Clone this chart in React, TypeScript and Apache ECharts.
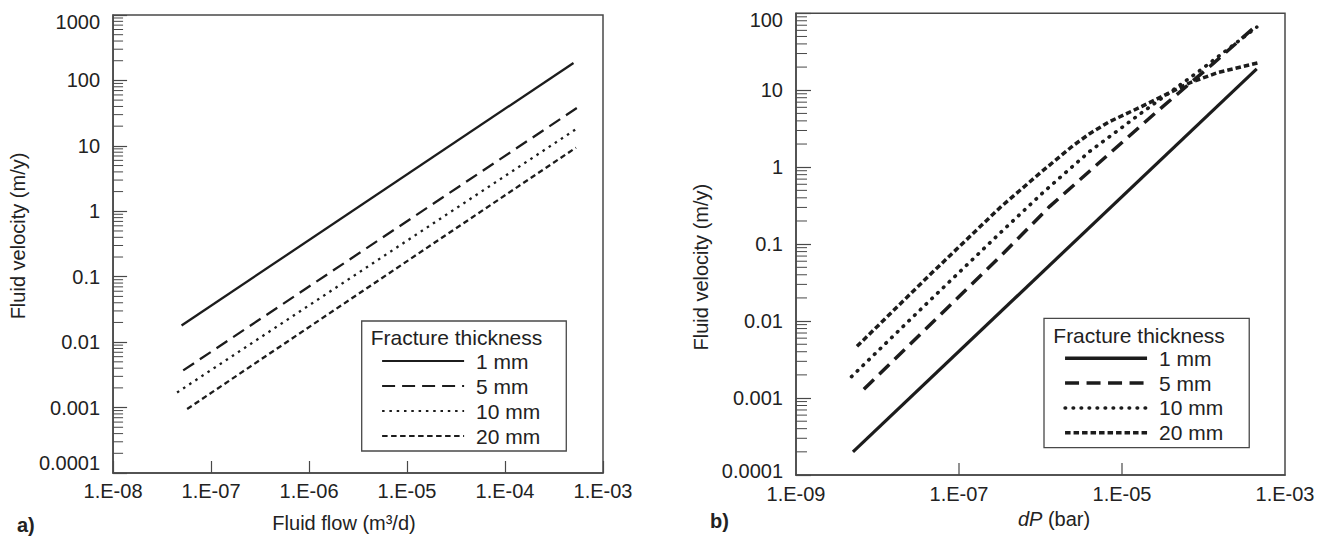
import React, { useEffect, useRef } from 'react';
import * as echarts from 'echarts';

// ---------- Data: panel a) fluid flow (m3/d) vs fluid velocity (m/y) ----------
const seriesNames = ['1 mm', '5 mm', '10 mm', '20 mm'];

const a1mm = [[5.0e-8, 0.018], [5.0e-4, 185]];
const a5mm = [[5.2e-8, 0.0037], [6.0e-4, 42]];
const a10mm = [[4.5e-8, 0.0017], [5.3e-4, 18]];
const a20mm = [[5.7e-8, 0.00095], [5.3e-4, 9.4]];

// ---------- Data: panel b) dP (bar) vs fluid velocity (m/y) ----------
const b1mm = [[5.0e-9, 0.0002], [4.5e-4, 19]];
const b5mm = [[6.8e-9, 0.0013], [3.2e-7, 0.069], [1.3e-6, 0.31], [2.8e-5, 5.5], [1.3e-4, 22], [4.5e-4, 70]];
const b10mm = [[4.8e-9, 0.0019], [3.8e-8, 0.016], [3.2e-7, 0.14], [1.1e-6, 0.48], [4.0e-6, 1.6], [1.7e-5, 5.0], [9.0e-5, 18], [4.5e-4, 66]];
const b20mm = [[5.6e-9, 0.0047], [4.4e-8, 0.04], [3.2e-7, 0.3], [1.0e-6, 0.85], [2.5e-6, 1.9], [4.05e-6, 2.75], [7.0e-6, 3.9], [1.66e-5, 6.0], [6.8e-5, 12.5], [1.5e-4, 17], [4.9e-4, 23]];

// ---------- Axis ranges / ticks ----------
const aXRange = [1e-8, 1e-3];
const aYRange = [1e-4, 1000];
const bXRange = [1e-9, 1e-3];
const bYRange = [1e-4, 100];
const bXMajorTicks = [1e-7, 1e-5];
const minorMultipliers = [2, 3, 4, 5, 6, 7, 8, 9];

const legendTitle = 'Fracture thickness';
const aYName = 'Fluid velocity (m/y)';
const aXName = 'Fluid flow (m\u00B3/d)';
const bYName = 'Fluid velocity (m/y)';

const FONT = "'Liberation Sans', Arial, Helvetica, sans-serif";
const INK = '#1c1c1c';
const AXIS = '#484848';
const TXT = '#222';

function expOf(v: number) {
  return Math.round(Math.log10(v));
}
function sciLabel(v: number) {
  const e = expOf(v);
  return '1.E' + (e < 0 ? '-' : '+') + String(Math.abs(e)).padStart(2, '0');
}
function decLabel(v: number) {
  const e = expOf(v);
  return e >= 0 ? String(Math.pow(10, e)) : '0.' + '0'.repeat(-e - 1) + '1';
}
function minorValues(range: number[]) {
  const out: number[] = [];
  for (let e = expOf(range[0]); e < expOf(range[1]); e++) {
    for (const m of minorMultipliers) out.push(m * Math.pow(10, e));
  }
  return out;
}

function yMinorTickSeries(xAt: number, values: number[], len: number) {
  return {
    type: 'custom',
    silent: true,
    z: 4,
    clip: false,
    data: values.map((v) => [xAt, v]),
    encode: { x: 0, y: 1 },
    renderItem: (_p: any, api: any) => {
      const p = api.coord([api.value(0), api.value(1)]);
      return {
        type: 'line',
        shape: { x1: p[0], y1: p[1], x2: p[0] + len, y2: p[1] },
        style: { stroke: AXIS, lineWidth: 1 },
      };
    },
  };
}

function xMajorTickSeries(yAt: number, values: number[], len: number) {
  return {
    type: 'custom',
    silent: true,
    z: 4,
    clip: false,
    data: values.map((v) => [v, yAt]),
    encode: { x: 0, y: 1 },
    renderItem: (_p: any, api: any) => {
      const p = api.coord([api.value(0), api.value(1)]);
      return {
        type: 'line',
        shape: { x1: p[0], y1: p[1], x2: p[0], y2: p[1] - len },
        style: { stroke: AXIS, lineWidth: 1.2 },
      };
    },
  };
}

function lineSeries(name: string, data: number[][], width: number, dash: any, cap: string) {
  return {
    type: 'line',
    name,
    data,
    symbol: 'none',
    showSymbol: false,
    smooth: false,
    z: 3,
    lineStyle: { color: INK, width, type: dash, cap, join: 'round' },
    itemStyle: { color: INK },
  };
}

const labelStyle = { fontSize: 20, color: TXT, fontFamily: FONT };

function legendFor(left: number, top: number, gap: number, lw: number) {
  return {
    orient: 'vertical',
    left,
    top,
    data: seriesNames,
    itemWidth: 82,
    itemHeight: 21,
    itemGap: gap,
    padding: [29.5, 26, 4.5, 19.3],
    borderColor: AXIS,
    borderWidth: 1.3,
    backgroundColor: '#fff',
    selectedMode: false,
    itemStyle: { opacity: 0 },
    lineStyle: { width: lw },
    textStyle: { fontSize: 21, fontFamily: FONT, color: TXT, lineHeight: 21, padding: [0, 0, 0, 7] },
    z: 10,
  };
}

function optionA() {
  return {
    animation: false,
    backgroundColor: '#fff',
    grid: { left: 113, top: 15, width: 490, height: 463, show: true, borderColor: AXIS, borderWidth: 1.5, backgroundColor: 'transparent' },
    xAxis: {
      type: 'log',
      logBase: 10,
      min: aXRange[0],
      max: aXRange[1],
      axisLine: { show: true, lineStyle: { color: AXIS, width: 1.5 } },
      axisTick: { show: true, inside: true, length: 12, lineStyle: { color: AXIS, width: 1.2 } },
      axisLabel: { ...labelStyle, formatter: sciLabel, margin: 8, showMinLabel: true, showMaxLabel: true },
      splitLine: { show: false },
      minorTick: { show: false },
      name: aXName,
      nameLocation: 'middle',
      nameGap: 40,
      nameTextStyle: { fontSize: 20, color: TXT, fontFamily: FONT, padding: [0, 28, 0, 0] },
    },
    yAxis: {
      type: 'log',
      logBase: 10,
      min: aYRange[0],
      max: aYRange[1],
      axisLine: { show: true, lineStyle: { color: AXIS, width: 1.5 } },
      axisTick: { show: true, inside: true, length: 14, lineStyle: { color: AXIS, width: 1.2 } },
      axisLabel: {
        ...labelStyle,
        margin: 13,
        showMinLabel: true,
        showMaxLabel: true,
        formatter: (v: number) => {
          const e = expOf(v);
          if (e === expOf(aYRange[1])) return '{hi|' + decLabel(v) + '}';
          if (e === expOf(aYRange[0])) return '{lo|' + decLabel(v) + '}';
          return decLabel(v);
        },
        rich: {
          hi: { ...labelStyle, padding: [14, 0, 0, 0] },
          lo: { ...labelStyle, padding: [0, 0, 20, 0] },
        },
      },
      splitLine: { show: false },
      name: aYName,
      nameLocation: 'middle',
      nameRotate: 90,
      nameGap: 79,
      nameTextStyle: { fontSize: 20, color: TXT, fontFamily: FONT, padding: [0, 0, 0, 16] },
    },
    legend: legendFor(361.7, 321, 4, 2.2),
    graphic: [
      { type: 'text', x: 370.7, y: 337, z: 20, style: { text: legendTitle, fontSize: 21, fontFamily: FONT, fill: TXT, align: 'left', verticalAlign: 'middle' } },
      { type: 'text', x: 17, y: 525, z: 20, style: { text: 'a)', fontSize: 20, fontWeight: 'bold', fontFamily: FONT, fill: TXT, align: 'left', verticalAlign: 'middle' } },
    ],
    series: [
      lineSeries(seriesNames[0], a1mm, 2.3, 'solid', 'butt'),
      lineSeries(seriesNames[1], a5mm, 2.3, [13, 7], 'butt'),
      lineSeries(seriesNames[2], a10mm, 2.3, [2.5, 4.8], 'butt'),
      lineSeries(seriesNames[3], a20mm, 2.3, [5.5, 3.5], 'butt'),
      yMinorTickSeries(aXRange[0], minorValues(aYRange), 10),
    ],
  };
}

function optionB() {
  return {
    animation: false,
    backgroundColor: '#fff',
    grid: { left: 136, top: 13.3, width: 489, height: 461.7, show: true, borderColor: AXIS, borderWidth: 1.5, backgroundColor: 'transparent' },
    xAxis: {
      type: 'log',
      logBase: 10,
      min: bXRange[0],
      max: bXRange[1],
      axisLine: { show: true, lineStyle: { color: AXIS, width: 1.5 } },
      axisTick: { show: false },
      axisLabel: {
        ...labelStyle,
        margin: 9,
        showMinLabel: true,
        showMaxLabel: true,
        formatter: (v: number) => (Math.abs(expOf(v)) % 2 === 1 ? sciLabel(v) : ''),
      },
      splitLine: { show: false },
      name: '{i|dP} (bar)',
      nameLocation: 'middle',
      nameGap: 34,
      nameTextStyle: {
        fontSize: 20,
        color: TXT,
        fontFamily: FONT,
        padding: [0, 0, 0, 27],
        rich: { i: { fontSize: 20, color: TXT, fontFamily: FONT, fontStyle: 'italic' } },
      },
    },
    yAxis: {
      type: 'log',
      logBase: 10,
      min: bYRange[0],
      max: bYRange[1],
      axisLine: { show: true, lineStyle: { color: AXIS, width: 1.5 } },
      axisTick: { show: true, inside: true, length: 15, lineStyle: { color: AXIS, width: 1.2 } },
      axisLabel: {
        ...labelStyle,
        margin: 13,
        showMinLabel: true,
        showMaxLabel: true,
        formatter: (v: number) => {
          const e = expOf(v);
          if (e === expOf(bYRange[1])) return '{hi|' + decLabel(v) + '}';
          if (e === expOf(bYRange[0])) return '{lo|' + decLabel(v) + '}';
          return decLabel(v);
        },
        rich: {
          hi: { ...labelStyle, padding: [13, 0, 0, 0] },
          lo: { ...labelStyle, padding: [0, 0, 8, 0] },
        },
      },
      splitLine: { show: false },
      name: bYName,
      nameLocation: 'middle',
      nameRotate: 90,
      nameGap: 82,
      nameTextStyle: { fontSize: 20, color: TXT, fontFamily: FONT, padding: [0, 46, 0, 0] },
    },
    legend: legendFor(384, 318.3, 3.8, 3.5),
    graphic: [
      { type: 'text', x: 393.3, y: 335, z: 20, style: { text: legendTitle, fontSize: 21, fontFamily: FONT, fill: TXT, align: 'left', verticalAlign: 'middle' } },
      { type: 'text', x: 50, y: 521, z: 20, style: { text: 'b)', fontSize: 20, fontWeight: 'bold', fontFamily: FONT, fill: TXT, align: 'left', verticalAlign: 'middle' } },
    ],
    series: [
      lineSeries(seriesNames[0], b1mm, 3.2, 'solid', 'butt'),
      lineSeries(seriesNames[1], b5mm, 3.5, [14, 7.5], 'butt'),
      lineSeries(seriesNames[2], b10mm, 3.6, [0.6, 7.4], 'round'),
      lineSeries(seriesNames[3], b20mm, 3.5, [5.5, 3], 'butt'),
      yMinorTickSeries(bXRange[0], minorValues(bYRange), 11),
      xMajorTickSeries(bYRange[0], bXMajorTicks, 12),
    ],
  };
}

export default function App() {
  const refA = useRef<HTMLDivElement>(null);
  const refB = useRef<HTMLDivElement>(null);

  useEffect(() => {
    document.body.style.margin = '0';
    const ca = echarts.init(refA.current as HTMLDivElement, undefined, { renderer: 'svg' });
    const cb = echarts.init(refB.current as HTMLDivElement, undefined, { renderer: 'svg' });
    ca.setOption(optionA() as any);
    cb.setOption(optionB() as any);
    return () => {
      ca.dispose();
      cb.dispose();
    };
  }, []);

  return (
    <div style={{ position: 'relative', width: 1321, height: 538, background: '#fff', overflow: 'hidden' }}>
      <div ref={refA} style={{ position: 'absolute', left: 0, top: 0, width: 660, height: 538 }} />
      <div ref={refB} style={{ position: 'absolute', left: 660, top: 0, width: 661, height: 538 }} />
    </div>
  );
}
